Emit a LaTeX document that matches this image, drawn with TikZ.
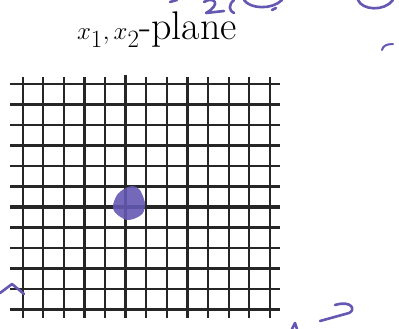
\documentclass[tikz,border=0pt]{standalone}
\usepackage{tikz}
\usetikzlibrary{arrows.meta}
\definecolor{penink}{RGB}{100,88,178}

\begin{document}
\begin{tikzpicture}[x=1pt,y=-1pt]

\tikzstyle{gridline}=[draw=black!85,line width=2.3pt];
\tikzstyle{axisline}=[draw=black!85,line width=3.4pt];
\tikzstyle{ink}=[draw=penink,line width=2.6pt,line cap=round,line join=round];

\useasboundingbox (0,0) rectangle (399,329);

% Draw the title
\node (title) at (157,30) {\fontsize{40}{46}\selectfont $x_1,x_2$-plane};

% Draw the grid
\foreach \k in {0,...,11}
  \path[gridline] (10,84+20.5*\k) -- (280,84+20.5*\k);
\foreach \k in {0,...,12}
  \path[gridline] (22.7+20.6*\k,77) -- (22.7+20.6*\k,318);

% Draw the axes
\path[axisline] (10,207) -- (280,207);
\path[axisline] (125.7,75) -- (125.7,318);

% The dot at the origin
\fill[penink,opacity=.9] plot[smooth cycle] coordinates
  {(113,205) (117,195) (124,189) (133,186) (140,190) (145,203) (143,213) (136,218) (127,220) (119,216) (114,211)};

% Pen marks round the picture
\path[ink] (170,2) -- (177,0);
\path[ink] (204,2) .. controls (214,-4) and (222,4) .. (206,13) -- (224,11);
\path[ink] (234,0) .. controls (228,5) and (229,11) .. (234,13);
\path[ink] (244,0) .. controls (250,9) and (272,10) .. (282,0);
\path[ink] (272,10) -- (276,8);
\path[ink] (358,0) .. controls (362,10) and (384,12) .. (393,0);
\path[ink,line width=2pt] (393,44) .. controls (386,44) and (383,46) .. (382,50);
\path[ink] (0,293) -- (12,284) -- (24,294);
\path[ink] (335,305) .. controls (352,300) and (356,310) .. (349,313) -- (320,321);
\path[ink] (292,329) -- (295,323) -- (297,329);

\end{tikzpicture}
\end{document}
